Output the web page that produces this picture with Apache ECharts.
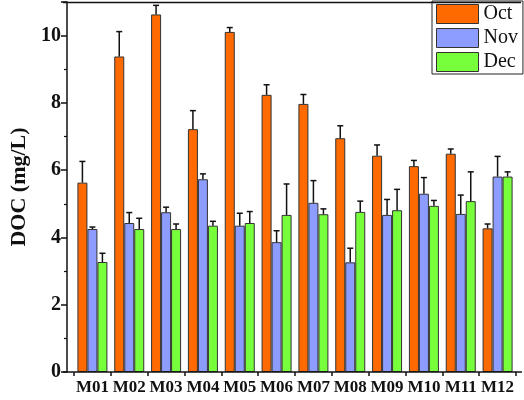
<!DOCTYPE html>
<html>
<head>
<meta charset="utf-8">
<script src="https://cdn.jsdelivr.net/npm/echarts@6/dist/echarts.min.js"></script>
<style>html,body{margin:0;padding:0;background:#fff}#c{width:524px;height:400px}</style>
</head>
<body>
<div id="c"></div>
<script>
var categories = ['M01','M02','M03','M04','M05','M06','M07','M08','M09','M10','M11','M12'];
var octValues = [5.63, 9.38, 10.63, 7.22, 10.11, 8.24, 7.97, 6.95, 6.43, 6.12, 6.49, 4.27];
var octErrors = [0.63, 0.74, 0.27, 0.55, 0.13, 0.30, 0.28, 0.37, 0.32, 0.17, 0.14, 0.13];
var novValues = [4.25, 4.43, 4.75, 5.73, 4.35, 3.86, 5.03, 3.26, 4.67, 5.30, 4.70, 5.81];
var novErrors = [0.06, 0.31, 0.15, 0.16, 0.37, 0.34, 0.66, 0.42, 0.46, 0.48, 0.56, 0.60];
var decValues = [3.27, 4.25, 4.25, 4.35, 4.43, 4.67, 4.69, 4.76, 4.81, 4.94, 5.08, 5.81];
var decErrors = [0.26, 0.32, 0.15, 0.13, 0.34, 0.92, 0.16, 0.32, 0.62, 0.16, 0.87, 0.14];
var seriesNames = ['Oct','Nov','Dec'];
var yTicks = [0, 2, 4, 6, 8, 10];

var serif = "'Liberation Serif','Times New Roman',serif";
var colors = ['#ff6a00', '#8c9cff', '#78ff3c'];
var barW = 10;
var gridL = 70, gridR = 8, gridT = 2, gridB = 28;
var W = 524, H = 400;

function errSeries(vals, errs, offset) {
  return {
    type: 'custom',
    z: 5,
    silent: true,
    data: categories.map(function (c, i) { return [i, vals[i], errs[i]]; }),
    renderItem: function (params, api) {
      var p = api.coord([api.value(0), api.value(1)]);
      var q = api.coord([api.value(0), api.value(1) + api.value(2)]);
      var x = p[0] + offset;
      var st = { stroke: '#111', lineWidth: 1.5 };
      return {
        type: 'group',
        children: [
          { type: 'line', shape: { x1: x, y1: p[1], x2: x, y2: q[1] }, style: st },
          { type: 'line', shape: { x1: x - 3, y1: q[1], x2: x + 3, y2: q[1] }, style: st }
        ]
      };
    }
  };
}

function barSeries(name, vals, color) {
  return {
    name: name, type: 'bar', data: vals, barWidth: barW, barGap: '0%',
    itemStyle: { color: color, borderColor: '#333', borderWidth: 1 }
  };
}

var chart = echarts.init(document.getElementById('c'), null, { renderer: 'canvas' });
chart.setOption({
  animation: false,
  backgroundColor: '#fff',
  grid: { left: gridL, right: gridR, top: gridT, bottom: gridB },
  legend: {
    data: seriesNames.map(function (n) { return { name: n, icon: 'rect' }; }),
    orient: 'vertical',
    left: 432, top: 1,
    itemWidth: 42, itemHeight: 19, itemGap: 4,
    padding: [3, 5, 2, 4],
    borderColor: '#222', borderWidth: 1,
    backgroundColor: '#fff',
    textStyle: { fontFamily: serif, fontSize: 20, color: '#111' },
    itemStyle: { borderColor: '#333', borderWidth: 1 }
  },
  xAxis: {
    type: 'category',
    data: categories,
    axisLine: { show: false },
    axisTick: { show: true, length: 4, lineStyle: { color: '#111', width: 1.5 } },
    axisLabel: { interval: 0, fontFamily: serif, fontWeight: 'bold', fontSize: 17, color: '#111', margin: 7 },
    splitLine: { show: false }
  },
  yAxis: {
    type: 'value', min: 0, max: 11, interval: 2,
    offset: 7,
    name: 'DOC (mg/L)', nameLocation: 'middle', nameGap: 37,
    nameTextStyle: { fontFamily: serif, fontWeight: 'bold', fontSize: 22, color: '#111' },
    axisLine: { show: true, lineStyle: { color: '#111', width: 1.5 } },
    axisTick: { show: true, length: 6, lineStyle: { color: '#111', width: 1.5 } },
    minorTick: { show: true, splitNumber: 2, length: 3, lineStyle: { color: '#111', width: 1.2 } },
    axisLabel: {
      fontFamily: serif, fontWeight: 'bold', fontSize: 20, color: '#111', margin: 6,
      formatter: function (v) { return yTicks.indexOf(v) >= 0 ? String(v) : ''; }
    },
    splitLine: { show: false }
  },
  graphic: [
    { type: 'line', z: 10, shape: { x1: gridL - 7, y1: gridT + 0.5, x2: 521, y2: gridT + 0.5 }, style: { stroke: '#111', lineWidth: 1.5 } },
    { type: 'line', z: 10, shape: { x1: gridL - 7, y1: H - gridB, x2: 522, y2: H - gridB }, style: { stroke: '#111', lineWidth: 1.5 } }
  ],
  series: [
    barSeries('Oct', octValues, colors[0]),
    barSeries('Nov', novValues, colors[1]),
    barSeries('Dec', decValues, colors[2]),
    errSeries(octValues, octErrors, -barW),
    errSeries(novValues, novErrors, 0),
    errSeries(decValues, decErrors, barW)
  ]
});
</script>
</body>
</html>
